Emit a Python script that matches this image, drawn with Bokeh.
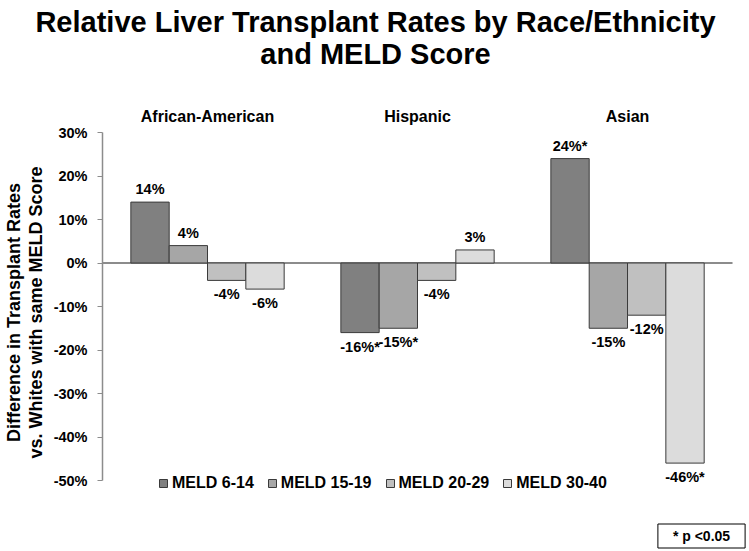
from bokeh.plotting import figure
from bokeh.layouts import column
from bokeh.models import (ColumnDataSource, FixedTicker, PrintfTickFormatter,
                          Label, Legend, LegendItem, Range1d)
from bokeh.core.properties import value
from bokeh.embed import file_html
from bokeh.resources import INLINE

# ---- data ----
groups = ["African-American", "Hispanic", "Asian"]
series = ["MELD 6-14", "MELD 15-19", "MELD 20-29", "MELD 30-40"]
meld_6_14 = [14, -16, 24]
meld_15_19 = [4, -15, -15]
meld_20_29 = [-4, -4, -12]
meld_30_40 = [-6, 3, -46]
sig_6_14 = [False, True, True]
sig_15_19 = [False, True, False]
sig_20_29 = [False, False, False]
sig_30_40 = [False, False, True]
y_ticks = [-50, -40, -30, -20, -10, 0, 10, 20, 30]
title_lines = ["Relative Liver Transplant Rates by Race/Ethnicity", "and MELD Score"]
y_label = "Difference in Transplant Rates\nvs. Whites with same MELD Score"
note = "* p <0.05"

values_all = [meld_6_14, meld_15_19, meld_20_29, meld_30_40]
sig_all = [sig_6_14, sig_15_19, sig_20_29, sig_30_40]
colors = ["#808080", "#a6a6a6", "#c0c0c0", "#dcdcdc"]

FONT = "Liberation Sans"
W = 749
TITLE_H = 90
NOTE_H = 41
MAIN_H = 551 - TITLE_H - NOTE_H


def strip(h):
    f = figure(width=W, height=h, x_range=Range1d(0, W), y_range=Range1d(0, h),
               x_axis_location=None, y_axis_location=None, title=None,
               output_backend="svg", toolbar_location=None, min_border=0)
    f.frame_align = False
    f.outline_line_color = None
    f.xgrid.grid_line_color = None
    f.ygrid.grid_line_color = None
    return f


# ---------------- title strip ----------------
tf = strip(TITLE_H)
for txt, yy in zip(title_lines, [TITLE_H - 21, TITLE_H - 53]):
    tf.add_layout(Label(x=375, y=yy, x_units="screen", y_units="screen", text=txt,
                        text_align="center", text_baseline="middle", text_font=FONT,
                        text_font_style="bold", text_font_size="29px", text_color="black"))

# ---------------- main chart ----------------
left_px, top_px = 101, 132 - TITLE_H
frame_h = 360                 # frame reaches a little below -50% to hold the legend
bottom_px = MAIN_H - top_px - frame_h
px_per_x = 631 / 3.0          # one group slot in pixels
px_per_y = 348 / 80.0         # pixels per percentage point
x_start = -0.5
x_end = x_start + (W - left_px) / px_per_x
y_end = y_ticks[-1]
y_start = y_end - frame_h / px_per_y

bw = 0.1825
offsets = [-1.5 * bw, -0.5 * bw, 0.5 * bw, 1.5 * bw]
gidx = list(range(len(groups)))

p = figure(width=W, height=MAIN_H, x_range=Range1d(x_start, x_end),
           y_range=Range1d(y_start, y_end), x_axis_location="above", title=None,
           output_backend="svg", toolbar_location=None,
           min_border_left=left_px, min_border_right=0, min_border_top=top_px,
           min_border_bottom=bottom_px)
p.outline_line_color = None
p.xgrid.grid_line_color = None
p.ygrid.grid_line_color = None

# zero line across the group slots
p.segment(x0=[-0.5], x1=[len(groups) - 0.5], y0=[0], y1=[0],
          line_color="#8c8c8c", line_width=2, level="underlay")

items = []
for i, (name, vals, sigs) in enumerate(zip(series, values_all, sig_all)):
    xs = [g + offsets[i] for g in gidx]
    labels = [f"{v}%" + ("*" if s else "") for v, s in zip(vals, sigs)]
    src = ColumnDataSource(dict(x=xs, v=vals, lab=labels))
    r = p.vbar(x="x", top="v", bottom=0, width=bw, source=src,
               fill_color=colors[i], line_color="#3a3a3a", line_width=1)
    items.append(LegendItem(label=name, renderers=[r]))
    pos = ColumnDataSource(dict(x=[x for x, v in zip(xs, vals) if v >= 0],
                                v=[v for v in vals if v >= 0],
                                lab=[l for l, v in zip(labels, vals) if v >= 0]))
    neg = ColumnDataSource(dict(x=[x for x, v in zip(xs, vals) if v < 0],
                                v=[v for v in vals if v < 0],
                                lab=[l for l, v in zip(labels, vals) if v < 0]))
    p.text(x="x", y="v", text="lab", source=pos,
           text_align="center", text_baseline="bottom", y_offset=-5,
           text_font=value(FONT), text_font_style="bold", text_font_size="14.5px", text_color="black")
    p.text(x="x", y="v", text="lab", source=neg,
           text_align="center", text_baseline="top", y_offset=6,
           text_font=value(FONT), text_font_style="bold", text_font_size="14.5px", text_color="black")

# y axis
ya = p.yaxis[0]
ya.bounds = (y_ticks[0], y_ticks[-1])
ya.ticker = FixedTicker(ticks=y_ticks)
ya.formatter = PrintfTickFormatter(format="%d%%")
ya.axis_line_color = "#8c8c8c"
ya.axis_line_width = 1.5
ya.major_tick_line_color = "#8c8c8c"
ya.major_tick_out = 5
ya.major_tick_in = 0
ya.minor_tick_line_color = None
ya.major_label_text_font = FONT
ya.major_label_text_font_style = "bold"
ya.major_label_text_font_size = "14.5px"
ya.major_label_text_color = "black"
ya.major_label_standoff = 10
ya.axis_label = y_label
ya.axis_label_text_font = FONT
ya.axis_label_text_font_style = "bold"
ya.axis_label_text_font_size = "18px"
ya.axis_label_text_line_height = 1.1
ya.axis_label_text_color = "black"
ya.axis_label_standoff = 5

# top group axis
xa = p.xaxis[0]
xa.ticker = FixedTicker(ticks=gidx)
xa.major_label_overrides = {g: name for g, name in zip(gidx, groups)}
xa.axis_line_color = None
xa.major_tick_line_color = None
xa.major_tick_out = 0
xa.major_tick_in = 0
xa.minor_tick_line_color = None
xa.major_label_text_font = FONT
xa.major_label_text_font_style = "bold"
xa.major_label_text_font_size = "16px"
xa.major_label_text_color = "black"
xa.major_label_standoff = 8

# legend at the foot of the plot area
legend = Legend(items=items, orientation="horizontal", location=(56, 0),
                glyph_width=10, glyph_height=10, label_standoff=4, spacing=13,
                padding=0, margin=0, border_line_color=None, background_fill_alpha=0,
                label_text_font=FONT, label_text_font_style="bold", label_text_font_size="16px",
                label_text_color="black")
p.add_layout(legend, "center")

# ---------------- note strip ----------------
nf = strip(NOTE_H)
nf.add_layout(Label(x=701, y=NOTE_H - 25.5, x_units="screen", y_units="screen", text=note,
                    text_align="center", text_baseline="middle", text_font=FONT,
                    text_font_style="bold", text_font_size="14px", text_color="black",
                    border_line_color="black", border_line_width=1,
                    background_fill_color="white",
                    padding=dict(left=15, right=15, top=4, bottom=4)))

layout = column(tf, p, nf, spacing=0)
open("out.html", "w").write(file_html(layout, INLINE))
